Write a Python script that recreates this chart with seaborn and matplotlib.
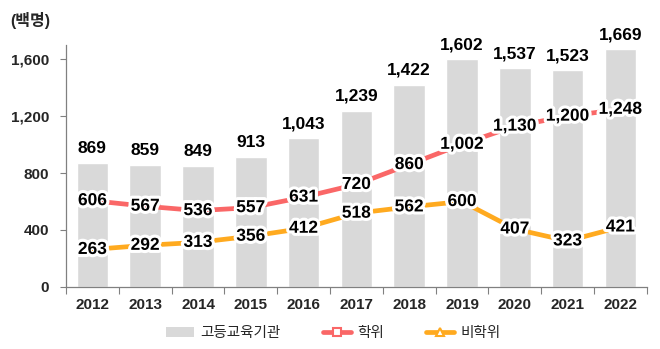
import matplotlib
matplotlib.use("Agg")
import matplotlib.pyplot as plt
import matplotlib.patheffects as pe
from matplotlib.lines import Line2D
from matplotlib.patches import Patch
import seaborn as sns
import pandas as pd

years = ["2012", "2013", "2014", "2015", "2016", "2017", "2018", "2019", "2020", "2021", "2022"]
total = [869, 859, 849, 913, 1043, 1239, 1422, 1602, 1537, 1523, 1669]
degree = [606, 567, 536, 557, 631, 720, 860, 1002, 1130, 1200, 1248]
non_degree = [263, 292, 313, 356, 412, 518, 562, 600, 407, 323, 421]

sns.set_theme(style="white")
plt.rcParams["font.family"] = ["Liberation Sans", "Noto Sans CJK KR"]

df = pd.DataFrame({"year": years, "total": total, "degree": degree, "non_degree": non_degree})

BAR = "#D9D9D9"
RED = "#FA6767"
ORANGE = "#FFAA1F"

fig = plt.figure(figsize=(6.6, 3.49), dpi=100)
ax = fig.add_axes([0.1, 0.178, 0.88, 0.693])

sns.barplot(data=df, x="year", y="total", color=BAR, width=0.6, saturation=1, ax=ax, zorder=1)
sns.lineplot(data=df, x="year", y="degree", color=RED, linewidth=3.4, ax=ax, sort=False, zorder=2)
sns.lineplot(data=df, x="year", y="non_degree", color=ORANGE, linewidth=3.4, ax=ax, sort=False, zorder=2)

glow = [pe.withStroke(linewidth=4.5, foreground="white")]
for i, v in enumerate(total):
    ax.text(i, v + 48, f"{v:,}", ha="center", va="bottom", fontsize=12.5, fontweight="bold", color="black")
for series in (degree, non_degree):
    for i, v in enumerate(series):
        ax.text(i, v, f"{v:,}", ha="center", va="center", fontsize=12.5, fontweight="bold",
                color="black", path_effects=glow, zorder=5)

ax.set_xlim(-0.5, len(years) - 0.5)
ax.set_ylim(0, 1700)
ax.set_yticks([0, 400, 800, 1200, 1600])
ax.set_yticklabels([f"{t:,}" for t in [0, 400, 800, 1200, 1600]], fontsize=11, fontweight="bold")
ax.set_xticks(range(len(years)))
ax.set_xticklabels(years, fontsize=11, fontweight="bold")
ax.set_xticks([i + 0.5 for i in range(-1, len(years))], minor=True)
ax.tick_params(axis="x", which="major", length=0, pad=8)
ax.tick_params(axis="x", which="minor", length=5, width=0.8, color="#808080", direction="out", bottom=True)
ax.tick_params(axis="y", length=4, width=0.8, color="#808080", direction="out", left=True, pad=8)
ax.set_xlabel("")
ax.set_ylabel("")
for s in ("top", "right"):
    ax.spines[s].set_visible(False)
for s in ("left", "bottom"):
    ax.spines[s].set_color("#808080")
    ax.spines[s].set_linewidth(0.9)

fig.text(0.015, 0.94, "(백명)", fontsize=11.5, fontweight="bold", ha="left", va="center")

handles = [
    Patch(facecolor=BAR, edgecolor="none"),
    Line2D([0], [0], color=RED, linewidth=3.4, marker="s", markersize=6,
           markerfacecolor="white", markeredgecolor=RED, markeredgewidth=1.5),
    Line2D([0], [0], color=ORANGE, linewidth=3.4, marker="^", markersize=6,
           markerfacecolor="white", markeredgecolor=ORANGE, markeredgewidth=1.5),
]
fig.legend(handles, ["고등교육기관", "학위", "비학위"], loc="center", bbox_to_anchor=(0.505, 0.045),
           ncol=3, frameon=False, fontsize=10.5, columnspacing=2.9, handlelength=1.9,
           handletextpad=0.45)

fig.savefig("out.png", dpi=100)
